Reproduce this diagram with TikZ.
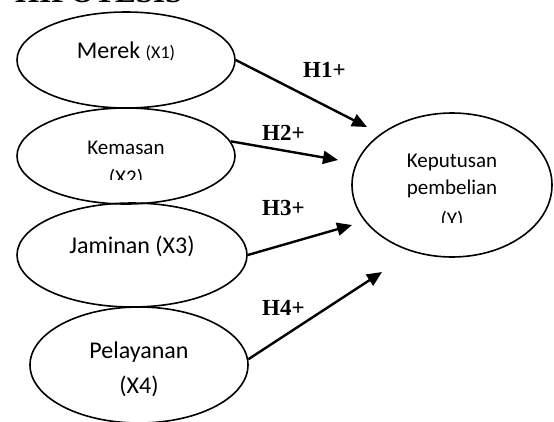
\documentclass[tikz,border=0pt]{standalone}
\usepackage{fontspec}
\setmainfont{Liberation Serif}
\newfontfamily\calib{Carlito}
\usetikzlibrary{shapes.geometric,arrows.meta}
\tikzset{
  oval/.style={draw,ellipse,line width=1.6pt,inner sep=0pt},
  lbl/.style={anchor=base,inner sep=0pt,font=\calib\fontsize{24}{28}\selectfont},
  lblsm/.style={anchor=base,inner sep=0pt,font=\calib\fontsize{21}{25}\selectfont},
  hyp/.style={anchor=base west,inner sep=0pt,font=\bfseries\fontsize{23}{27}\selectfont},
  arr/.style={line width=2.4pt,-{Triangle[length=15pt,width=13pt]}}
}
\begin{document}
\begin{tikzpicture}[x=1pt,y=-1pt]
\useasboundingbox (0,0) rectangle (554,421);
\fill[white] (0,0) rectangle (554,421);
% cut-off heading
\node[anchor=base west,inner sep=0pt,font=\bfseries\fontsize{31}{35}\selectfont] (title) at (15,2) {HIPOTESIS};
% ellipses
\node[oval,minimum width=218pt,minimum height=96pt] (e1) at (126,60) {};
\node[oval,minimum width=218pt,minimum height=96pt] (e2) at (126,156) {};
\node[oval,minimum width=230pt,minimum height=104pt] (e3) at (132,255) {};
\node[oval,minimum width=218pt,minimum height=116pt] (e4) at (139,365) {};
\node[oval,minimum width=200pt,minimum height=144pt] (ey) at (452,185) {};
% texts
\node[lbl] (t1) at (126,58) {Merek {\fontsize{18}{20}\selectfont(X1)}};
\node[lblsm] (t2a) at (126,154) {Kemasan};
\begin{scope}
\clip (20,160) rectangle (230,179);
\node[lblsm] (t2b) at (126,184) {(X2)};
\end{scope}
\node[lbl] (t3) at (132,253) {Jaminan (X3)};
\node[lbl] (t4a) at (139,358) {Pelayanan};
\node[lbl] (t4b) at (139,393) {(X4)};
\node[lblsm] (ty1) at (452,167) {Keputusan};
\node[lblsm] (ty2) at (452,194) {pembelian};
\begin{scope}
\clip (360,200) rectangle (540,222);
\node[lblsm] (ty3) at (452,226) {(Y)};
\end{scope}
% arrow tips
\coordinate (p1) at (367,127);
\coordinate (p2) at (338,160);
\coordinate (p3) at (352,225);
\coordinate (p4) at (382,272);
\draw[arr] (e1.east) -- (p1);
\draw[arr] (e2.8) -- (p2);
\draw[arr] (e3.east) -- (p3);
\draw[arr] (e4.3) -- (p4);
% hypothesis labels
\node[hyp] (h1) at (303,77) {H1+};
\node[hyp] (h2) at (262,140) {H2+};
\node[hyp] (h3) at (262,215) {H3+};
\node[hyp] (h4) at (262,315) {H4+};
\end{tikzpicture}
\end{document}
